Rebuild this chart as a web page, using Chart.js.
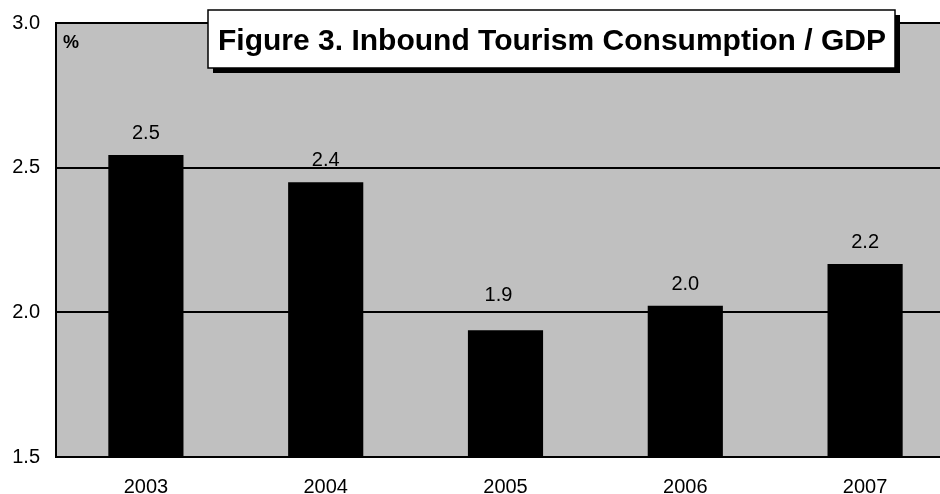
<!DOCTYPE html>
<html>
<head>
<meta charset="utf-8">
<script src="https://cdn.jsdelivr.net/npm/chart.js@4/dist/chart.umd.min.js"></script>
<style>
html,body{margin:0;padding:0;background:#fff;overflow:hidden;width:940px;height:494px;}
#wrap{width:960px;height:494px;}
</style>
</head>
<body>
<div id="wrap"><canvas id="c" width="960" height="494"></canvas></div>
<script>
const categories = ["2003", "2004", "2005", "2006", "2007"];
const values = [2.544, 2.450, 1.938, 2.023, 2.167];
const valueLabels = ["2.5", "2.4", "1.9", "2.0", "2.2"];
const yTicks = [1.5, 2.0, 2.5, 3.0];
const titleText = "Figure 3. Inbound Tourism Consumption / GDP";
const unitText = "%";

const FONT = "'Liberation Sans', Arial, sans-serif";

const decor = {
  id: 'decor',
  beforeDraw(chart) {
    const {ctx, chartArea: a} = chart;
    ctx.save();
    ctx.fillStyle = '#c0c0c0';
    ctx.fillRect(a.left, a.top, a.right - a.left, a.bottom - a.top);
    ctx.restore();
  },
  afterDatasetsDraw(chart) {
    const {ctx, chartArea: a} = chart;
    ctx.save();
    // plot border
    ctx.strokeStyle = '#000';
    ctx.lineWidth = 2;
    ctx.strokeRect(a.left, a.top, a.right - a.left, a.bottom - a.top);
    // value labels (one label nudged off the gridline, as in the original)
    const nudge = {2: [-7, -13]};
    const meta = chart.getDatasetMeta(0);
    ctx.fillStyle = '#000';
    ctx.font = '20px ' + FONT;
    ctx.textAlign = 'center';
    ctx.textBaseline = 'alphabetic';
    meta.data.forEach((bar, i) => {
      const [dx, dy] = nudge[i] || [0, 0];
      ctx.fillText(valueLabels[i], bar.x + dx, bar.y - 16 + dy);
    });
    // unit
    ctx.font = 'bold 18px ' + FONT;
    ctx.textAlign = 'left';
    ctx.fillText(unitText, a.left + 7, 48);
    // title box with shadow
    const bx = 208, by = 10, bw = 687, bh = 58;
    ctx.fillStyle = '#000';
    ctx.fillRect(bx + 5, by + 5, bw, bh);
    ctx.fillStyle = '#fff';
    ctx.fillRect(bx, by, bw, bh);
    ctx.strokeStyle = '#000';
    ctx.lineWidth = 1.5;
    ctx.strokeRect(bx, by, bw, bh);
    ctx.fillStyle = '#000';
    ctx.font = 'bold 30px ' + FONT;
    const w = ctx.measureText(titleText).width;
    const sx = 668 / w;
    ctx.translate(552, 50);
    ctx.scale(sx, 1);
    ctx.textAlign = 'center';
    ctx.fillText(titleText, 0, 0);
    ctx.restore();
  }
};

new Chart(document.getElementById('c'), {
  type: 'bar',
  data: {
    labels: categories,
    datasets: [{
      data: values,
      backgroundColor: '#000',
      borderWidth: 0,
      barPercentage: 0.418,
      categoryPercentage: 1
    }]
  },
  options: {
    responsive: false,
    animation: false,
    devicePixelRatio: 1,
    layout: {padding: {top: 23, right: 5, left: 0, bottom: 0}},
    plugins: {legend: {display: false}, tooltip: {enabled: false}, title: {display: false}},
    scales: {
      x: {
        grid: {display: false, drawTicks: false},
        border: {display: true, color: '#000', width: 2},
        ticks: {color: '#000', font: {size: 20, family: FONT}, padding: 18, maxRotation: 0},
        afterFit(s) { s.height = 37; s.paddingLeft = 0; s.paddingRight = 0; }
      },
      y: {
        min: 1.5, max: 3.0,
        afterBuildTicks(s) { s.ticks = yTicks.map(v => ({value: v})); },
        grid: {color: '#000', lineWidth: 2, drawTicks: false},
        border: {display: true, color: '#000', width: 2},
        ticks: {color: '#000', font: {size: 20, family: FONT}, padding: 16,
          callback: v => Number(v).toFixed(1)},
        afterFit(s) { s.width = 56; s.paddingTop = 0; s.paddingBottom = 0; }
      }
    }
  },
  plugins: [decor]
});
</script>
</body>
</html>
